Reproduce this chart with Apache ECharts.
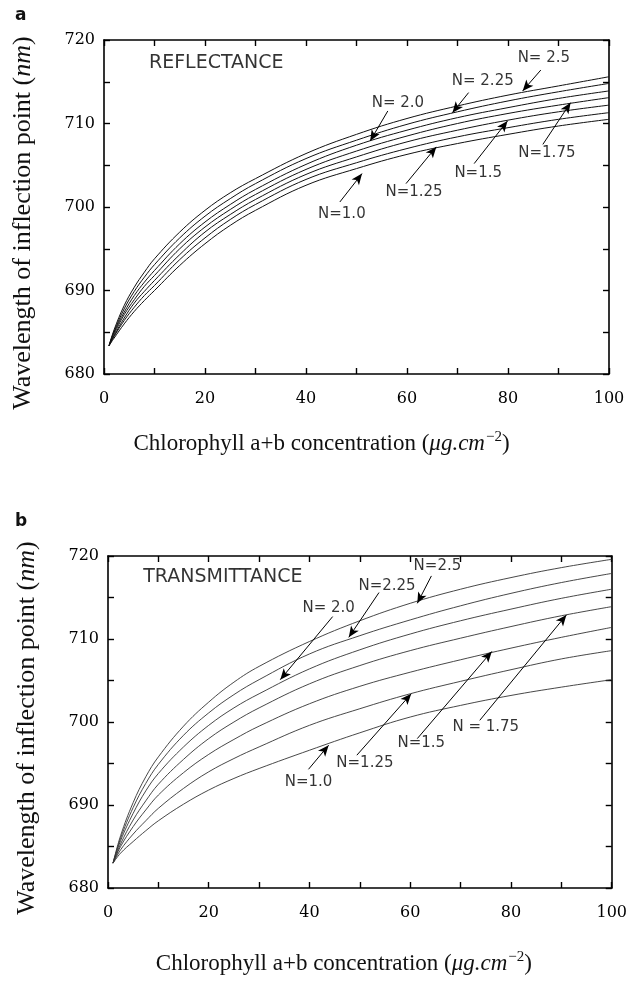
<!DOCTYPE html>
<html>
<head>
<meta charset="utf-8">
<script src="https://cdn.jsdelivr.net/npm/echarts@6/dist/echarts.min.js"></script>
<style>html,body{margin:0;padding:0;background:#fff;}#c{width:630px;height:985px;}</style>
</head>
<body>
<div id="c"></div>
<script>
// ---------- data ----------
const N_NAMES = ['N=1.0', 'N=1.25', 'N=1.5', 'N=1.75', 'N=2.0', 'N=2.25', 'N=2.5'];

// (a) reflectance
const reflX = [1, 2, 4, 6, 8, 10, 15, 20, 25, 30, 40, 50, 60, 70, 80, 90, 100];
const refl_N100 = [683.4, 684.3, 686.0, 687.5, 688.8, 690.0, 693.0, 695.6, 697.8, 699.6, 702.6, 704.6, 706.3, 707.6, 708.7, 709.7, 710.5];
const refl_N125 = [683.4, 684.5, 686.4, 688.0, 689.4, 690.6, 693.7, 696.3, 698.5, 700.3, 703.3, 705.3, 707.0, 708.4, 709.5, 710.5, 711.3];
const refl_N150 = [683.4, 684.6, 686.7, 688.5, 689.9, 691.2, 694.3, 697.0, 699.1, 700.9, 703.9, 706.0, 707.8, 709.2, 710.4, 711.4, 712.2];
const refl_N175 = [683.4, 684.8, 687.1, 688.9, 690.5, 691.8, 695.0, 697.6, 699.7, 701.5, 704.5, 706.7, 708.5, 710.0, 711.2, 712.2, 713.1];
const refl_N200 = [683.4, 685.0, 687.4, 689.4, 691.0, 692.4, 695.6, 698.2, 700.3, 702.1, 705.1, 707.4, 709.2, 710.7, 711.9, 713.0, 713.9];
const refl_N225 = [683.4, 685.1, 687.8, 689.9, 691.6, 693.1, 696.3, 698.9, 701.0, 702.8, 705.8, 708.0, 709.9, 711.4, 712.7, 713.8, 714.8];
const refl_N250 = [683.4, 685.3, 688.2, 690.4, 692.2, 693.8, 697.0, 699.6, 701.7, 703.4, 706.4, 708.7, 710.6, 712.1, 713.4, 714.5, 715.6];

// (b) transmittance
const transX = [1, 2.5, 5, 7.5, 10, 15, 20, 25, 30, 40, 50, 60, 70, 80, 90, 100];
const trans_N100 = [683.0, 684.2, 685.6, 686.9, 688.1, 690.1, 691.8, 693.2, 694.4, 696.6, 698.7, 700.6, 702.0, 703.2, 704.2, 705.1];
const trans_N125 = [683.0, 684.6, 686.5, 688.1, 689.6, 692.0, 694.0, 695.6, 697.0, 699.6, 701.6, 703.4, 704.9, 706.3, 707.6, 708.6];
const trans_N150 = [683.0, 685.0, 687.4, 689.4, 691.2, 693.9, 696.1, 697.9, 699.5, 702.2, 704.3, 706.0, 707.5, 708.9, 710.2, 711.4];
const trans_N175 = [683.0, 685.3, 688.2, 690.5, 692.5, 695.5, 698.0, 700.0, 701.7, 704.6, 706.8, 708.6, 710.1, 711.5, 712.8, 713.9];
const trans_N200 = [683.0, 685.7, 689.0, 691.7, 693.8, 697.0, 699.6, 701.7, 703.4, 706.4, 708.7, 710.6, 712.2, 713.6, 714.9, 716.0];
const trans_N225 = [683.0, 686.0, 689.7, 692.6, 694.9, 698.4, 701.1, 703.3, 705.1, 708.2, 710.4, 712.3, 714.0, 715.5, 716.8, 717.9];
const trans_N250 = [683.0, 686.3, 690.3, 693.4, 695.8, 699.5, 702.4, 704.8, 706.7, 709.7, 712.2, 714.3, 716.0, 717.4, 718.6, 719.6];

// axis ticks
const X_MIN = 0, X_MAX = 100, X_STEP = 10, X_LABEL_STEP = 20;
const Y_MIN = 680, Y_MAX = 720, Y_STEP = 5, Y_LABEL_STEP = 10;

// annotations (data coordinates): [labelX, labelY, text]
const reflLabels = [
  [87.1, 717.8, 'N= 2.5'], [75.0, 715.1, 'N= 2.25'], [58.2, 712.5, 'N= 2.0'],
  [47.1, 699.2, 'N=1.0'], [61.4, 701.8, 'N=1.25'], [74.1, 704.0, 'N=1.5'], [87.7, 706.4, 'N=1.75']
];
// arrows: [tailX, tailY, headX, headY]
const reflArrows = [
  [86.5, 716.4, 82.9, 713.9], [72.2, 713.7, 69.0, 711.3], [56.2, 711.5, 52.7, 707.9],
  [46.7, 700.6, 51.1, 704.0], [59.8, 702.8, 65.8, 707.2], [73.3, 705.2, 79.9, 710.3], [86.9, 707.5, 92.4, 712.5]
];
const transLabels = [
  [65.4, 718.8, 'N=2.5'], [55.4, 716.4, 'N=2.25'], [43.8, 713.7, 'N= 2.0'],
  [39.8, 692.7, 'N=1.0'], [51.0, 695.0, 'N=1.25'], [62.2, 697.4, 'N=1.5'], [75.0, 699.4, 'N = 1.75']
];
const transArrows = [
  [64.2, 717.6, 61.4, 714.3], [53.8, 715.6, 47.8, 710.2], [44.6, 712.7, 34.2, 705.1],
  [39.8, 694.3, 43.8, 697.2], [49.4, 696.0, 60.2, 703.4], [61.4, 698.0, 76.2, 708.5], [73.8, 700.2, 91.0, 712.9]
];

// ---------- chart ----------
const chart = echarts.init(document.getElementById('c'), null, {renderer: 'canvas'});

const SERIF = "'DejaVu Serif', 'Liberation Serif', serif";
const LSERIF = "'Liberation Serif', serif";
const SANS = "'DejaVu Sans', 'Liberation Sans', sans-serif";

const yNameRich = {
  r: {fontFamily: LSERIF, fontSize: 26, color: '#111'},
  i: {fontFamily: LSERIF, fontSize: 26, fontStyle: 'italic', color: '#111'}
};
const xNameRich = {
  r: {fontFamily: LSERIF, fontSize: 23, color: '#111'},
  i: {fontFamily: LSERIF, fontSize: 23, fontStyle: 'italic', color: '#111'},
  s: {fontFamily: LSERIF, fontSize: 15, color: '#111', padding: [0, 0, 13, 1]}
};

function xAxes(gridIndex, nameGap, shiftPad) {
  const base = {
    gridIndex, type: 'value', min: X_MIN, max: X_MAX, interval: X_STEP,
    axisLine: {show: true, onZero: false, lineStyle: {color: '#000', width: 1.6}},
    axisTick: {show: true, inside: true, length: 6, lineStyle: {color: '#000', width: 1.4}},
    splitLine: {show: false}
  };
  return [
    Object.assign({}, base, {
      position: 'bottom',
      axisLabel: {
        show: true, margin: 17, color: '#000', fontFamily: SERIF, fontSize: 16,
        formatter: v => (v % X_LABEL_STEP === 0 ? String(v) : '')
      },
      name: '{r|Chlorophyll a+b concentration (}{i|μg.cm}{s|−2}{r|)}',
      nameLocation: 'middle', nameGap,
      nameTextStyle: {rich: xNameRich, padding: [0, shiftPad, 0, 0]}
    }),
    Object.assign({}, base, {position: 'top', axisLabel: {show: false}})
  ];
}
function yAxes(gridIndex, namePad) {
  const base = {
    gridIndex, type: 'value', min: Y_MIN, max: Y_MAX, interval: Y_STEP,
    axisLine: {show: true, onZero: false, lineStyle: {color: '#000', width: 1.6}},
    axisTick: {show: true, inside: true, length: 6, lineStyle: {color: '#000', width: 1.4}},
    splitLine: {show: false}
  };
  return [
    Object.assign({}, base, {
      position: 'left',
      axisLabel: {
        show: true, margin: 9, color: '#000', fontFamily: SERIF, fontSize: 16,
        formatter: v => (v % Y_LABEL_STEP === 0 ? String(v) : '')
      },
      name: '{r|Wavelength of inflection point (}{i|nm}{r|)}',
      nameLocation: 'middle', nameGap: 68, nameRotate: 90,
      nameTextStyle: {rich: yNameRich, padding: namePad}
    }),
    Object.assign({}, base, {position: 'right', axisLabel: {show: false}})
  ];
}

function curveSeries(xs, ys, name, axisIdx, width, color) {
  return {
    type: 'line', name, xAxisIndex: axisIdx, yAxisIndex: axisIdx,
    data: xs.map((x, i) => [x, ys[i]]),
    smooth: 0.4, showSymbol: false, silent: true, animation: false,
    lineStyle: {color, width}
  };
}
function annotationSeries(labels, arrows, axisIdx) {
  return {
    type: 'scatter', xAxisIndex: axisIdx, yAxisIndex: axisIdx,
    data: labels.map(l => ({value: [l[0], l[1]], labelText: l[2]})),
    symbolSize: 0, silent: true, animation: false,
    label: {
      show: true, position: 'inside', color: '#000', fontFamily: SANS, fontSize: 15,
      formatter: p => p.data.labelText
    },
    markLine: {
      silent: true, animation: false,
      symbol: ['none', 'arrow'], symbolSize: [7, 11],
      label: {show: false},
      lineStyle: {color: '#000', width: 1, type: 'solid'},
      emphasis: {disabled: true},
      data: arrows.map(a => [{coord: [a[0], a[1]]}, {coord: [a[2], a[3]]}])
    }
  };
}
function textSeries(x, y, text, axisIdx) {
  return {
    type: 'scatter', xAxisIndex: axisIdx, yAxisIndex: axisIdx,
    data: [[x, y]], symbolSize: 0, silent: true, animation: false,
    label: {show: true, position: 'right', distance: 0, color: '#000', fontFamily: SANS, fontSize: 19, formatter: text}
  };
}

const reflSets = [refl_N100, refl_N125, refl_N150, refl_N175, refl_N200, refl_N225, refl_N250];
const transSets = [trans_N100, trans_N125, trans_N150, trans_N175, trans_N200, trans_N225, trans_N250];

const series = [];
reflSets.forEach((ys, i) => series.push(curveSeries(reflX, ys, N_NAMES[i], 0, 1, '#111')));
transSets.forEach((ys, i) => series.push(curveSeries(transX, ys, N_NAMES[i], 2, 0.9, '#333')));
series.push(annotationSeries(reflLabels, reflArrows, 0));
series.push(annotationSeries(transLabels, transArrows, 2));
series.push(textSeries(8.9, 717.2, 'REFLECTANCE', 0));
series.push(textSeries(7.0, 717.5, 'TRANSMITTANCE', 2));

const xa0 = xAxes(0, 56, 70), xa1 = xAxes(1, 62, 32);
const ya0 = yAxes(0, [0, 32, 0, 0]), ya1 = yAxes(1, [0, 12, 0, 0]);

chart.setOption({
  backgroundColor: '#fff',
  animation: false,
  title: [
    {text: 'a', left: 10, top: 2, textStyle: {fontFamily: SANS, fontWeight: 'bold', fontSize: 17, color: '#111'}},
    {text: 'b', left: 10, top: 508, textStyle: {fontFamily: SANS, fontWeight: 'bold', fontSize: 17, color: '#111'}}
  ],
  grid: [
    {left: 104, top: 40, width: 505, height: 334},
    {left: 108, top: 556, width: 504, height: 332}
  ],
  xAxis: [xa0[0], xa0[1], xa1[0], xa1[1]],
  yAxis: [ya0[0], ya0[1], ya1[0], ya1[1]],
  series
});
</script>
</body>
</html>
